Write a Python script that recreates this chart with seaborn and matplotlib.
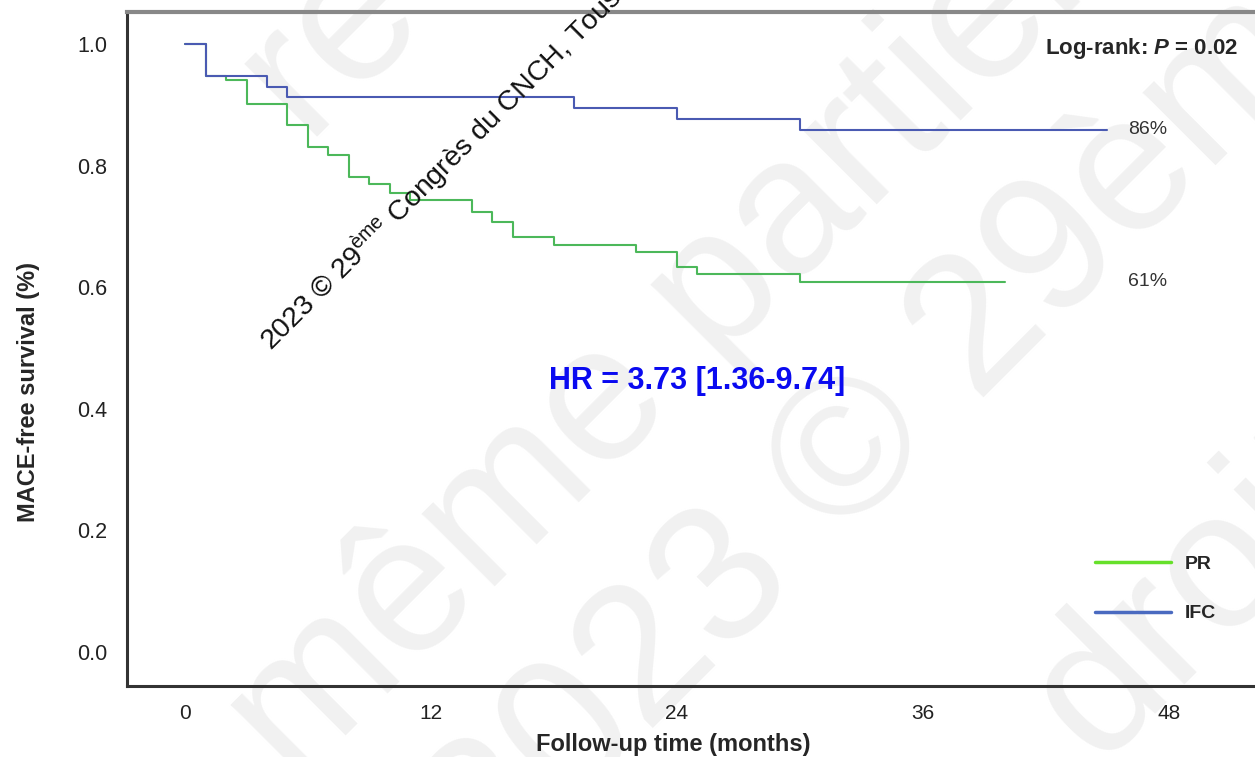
import pandas as pd
import seaborn as sns
import matplotlib.pyplot as plt
from matplotlib.lines import Line2D


# -------------------------------
# Kaplan-Meier step data
# -------------------------------

pr_time = [0, 1, 2, 3, 5, 6, 7, 8, 9, 10, 11, 14, 15, 16, 18, 22, 24, 25, 30, 40]
pr_surv = [1.0, 0.947, 0.941, 0.901, 0.866, 0.830, 0.817, 0.781, 0.769, 0.755,
           0.743, 0.723, 0.707, 0.683, 0.670, 0.658, 0.634, 0.622, 0.609, 0.609]

ifc_time = [0, 1, 4, 5, 19, 24, 30, 45]
ifc_surv = [1.0, 0.947, 0.929, 0.913, 0.895, 0.877, 0.859, 0.859]

groups = ["PR", "IFC"]
x_ticks = [0, 12, 24, 36, 48]
y_ticks = [0.0, 0.2, 0.4, 0.6, 0.8, 1.0]
end_labels = ["61%", "86%"]

df = pd.concat([
    pd.DataFrame({"time": pr_time, "surv": pr_surv, "group": "PR"}),
    pd.DataFrame({"time": ifc_time, "surv": ifc_surv, "group": "IFC"}),
])


# -------------------------------
# Figure
# -------------------------------

sns.set_style("white")
plt.rcParams["font.family"] = ["Liberation Sans", "DejaVu Sans"]
plt.rcParams["mathtext.fontset"] = "custom"
plt.rcParams["mathtext.rm"] = "Liberation Sans"
plt.rcParams["mathtext.it"] = "Liberation Sans:italic:bold"

W, H = 1255, 757
fig = plt.figure(figsize=(W / 100, H / 100), dpi=100)
ax = fig.add_axes([127 / W, 1 - 686 / H, 1 - 127 / W, (686 - 12) / H])

# faint background watermark (drawn behind the curves)
wm = dict(color="#f1f1f1", fontsize=140, rotation=45, zorder=0,
          ha="center", va="center", transform=None, clip_on=False)
ax.text(330, H - 40, "re", **wm)
ax.text(710, H - 300, "même partielle", **wm)
ax.text(910, H - 400, "2023 © 29ème", **wm)
ax.text(1230, H - 560, "droits", **wm)

palette = {"PR": "#4cb85a", "IFC": "#4a5ab2"}
sns.lineplot(
    data=df, x="time", y="surv", hue="group", palette=palette,
    drawstyle="steps-post", estimator=None, sort=True,
    linewidth=1.5, legend=False, ax=ax, zorder=3
)

ax.set_xlim(-2.83, 52.2)
ax.set_ylim(-0.0559, 1.0526)
ax.set_xticks(x_ticks)
ax.set_yticks(y_ticks)
ax.set_yticklabels([f"{v:.1f}" for v in y_ticks])
ax.set_xticklabels([str(v) for v in x_ticks])

ax.tick_params(axis="x", direction="in", length=8, width=1.5, labelsize=15, pad=13, colors="#222")
ax.tick_params(axis="y", direction="out", length=6, width=1.5, labelsize=15.5, pad=8, colors="#222")

for side in ["left", "bottom"]:
    ax.spines[side].set_color("#333")
    ax.spines[side].set_linewidth(2.2)
ax.spines["top"].set_color("#888")
ax.spines["top"].set_linewidth(3)
ax.spines["right"].set_visible(False)

ax.set_xlabel("Follow-up time (months)", fontsize=17, fontweight="bold")
ax.set_ylabel("MACE-free survival (%)", fontsize=17, fontweight="bold")
ax.xaxis.set_label_coords((673 - 127) / (W - 127), -(733 - 686) / (686 - 12))
ax.yaxis.set_label_coords(-(127 - 40) / (W - 127), (686 - 392) / (686 - 12))

# end-of-curve percentages
ax.text(46.0, pr_surv[-1], end_labels[0], fontsize=14, color="#333", va="center")
ax.text(46.0, ifc_surv[-1], end_labels[1], fontsize=14, color="#333", va="center")

ax.text(51.4, 0.993, "Log-rank: $\\mathit{P}$ = 0.02", fontsize=16, fontweight="bold",
        ha="right", va="center", zorder=4)
ax.text(25.0, 0.445, "HR = 3.73 [1.36-9.74]", fontsize=22, fontweight="bold",
        color="#0a0af0", ha="center", va="center", zorder=4)

# black diagonal watermark
ax.text(272, H - 352, "2023 © 29$^{\\mathrm{ème}}$ Congrès du CNCH, Tous", fontsize=20.5,
        rotation=45, rotation_mode="anchor", ha="left", va="baseline",
        color="#111", transform=None, clip_on=False, zorder=5)

# legend
handles = [
    Line2D([], [], color="#66e02a", lw=2.5),
    Line2D([], [], color="#4a6ac0", lw=2.5),
]
ax.legend(handles, groups, loc="upper left", bbox_to_anchor=(1095 / W, 1 - 555 / H),
          bbox_transform=fig.transFigure, borderaxespad=0, borderpad=0,
          frameon=False, handlelength=3.9, handletextpad=0.7, labelspacing=1.65,
          prop={"weight": "bold", "size": 14})

fig.savefig("out.png", dpi=100)
